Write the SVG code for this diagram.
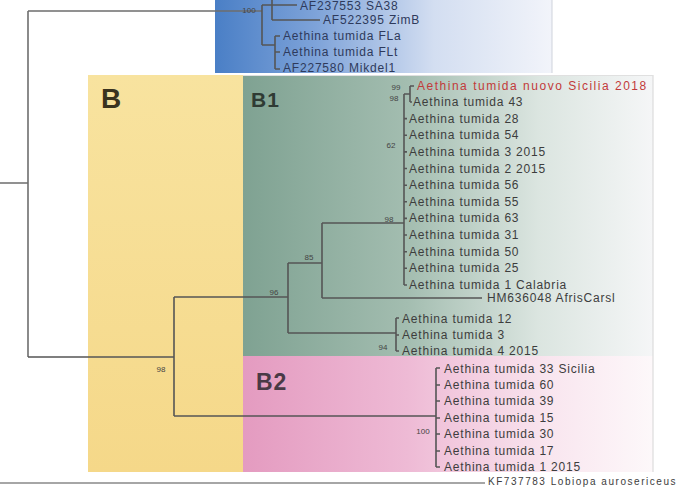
<svg xmlns="http://www.w3.org/2000/svg" width="681" height="488" viewBox="0 0 681 488">
<defs>
<linearGradient id="gBlue" x1="0" y1="0" x2="1" y2="0">
<stop offset="0" stop-color="#4a7fc6"/><stop offset="0.3" stop-color="#7ea3d9"/><stop offset="0.65" stop-color="#d3def1"/><stop offset="1" stop-color="#f2f4fa"/>
</linearGradient>
<linearGradient id="gYel" x1="0" y1="0" x2="0" y2="1">
<stop offset="0" stop-color="#f8e39f"/><stop offset="1" stop-color="#f5d889"/>
</linearGradient>
<linearGradient id="gGreen" x1="0" y1="0" x2="1" y2="0">
<stop offset="0" stop-color="#7fa292"/><stop offset="0.4" stop-color="#a3bdb0"/><stop offset="0.72" stop-color="#dbe5e0"/><stop offset="1" stop-color="#f5f6f7"/>
</linearGradient>
<linearGradient id="gPink" x1="0" y1="0" x2="1" y2="0">
<stop offset="0" stop-color="#e49bc0"/><stop offset="0.4" stop-color="#eebad5"/><stop offset="0.75" stop-color="#f9e6ef"/><stop offset="1" stop-color="#fdf8fa"/>
</linearGradient>
<style>
.ln{stroke:#555;stroke-width:1.6;fill:none}
.lf{font-family:"Liberation Sans",Arial,sans-serif;font-size:12px;letter-spacing:0.8px;fill:#3d3d3d}
.bl{font-family:"Liberation Sans",Arial,sans-serif;font-size:12px;letter-spacing:0.8px;fill:#2e3a5c}
.bs{font-family:"Liberation Sans",Arial,sans-serif;font-size:8px;fill:#444;text-anchor:middle}
.cl{font-family:"Liberation Sans",Arial,sans-serif;font-weight:bold}
</style>
</defs>
<rect width="681" height="488" fill="#ffffff"/>
<g id="panels">
<rect x="215" y="0" width="337" height="73" fill="url(#gBlue)"/>
<line x1="552" y1="0" x2="552" y2="73" stroke="#cfd3dc" stroke-width="1"/>
<rect x="88" y="75" width="155" height="397" fill="url(#gYel)"/>
<rect x="243" y="75" width="410" height="281" fill="url(#gGreen)"/>
<rect x="243" y="356" width="410" height="116" fill="url(#gPink)"/>
<line x1="653" y1="75" x2="653" y2="472" stroke="#d6d6d6" stroke-width="1"/>
<line x1="243" y1="75.5" x2="653" y2="75.5" stroke="#e0e0e0" stroke-width="1"/>
</g>
<g id="clade-labels">
<text class="cl" x="101" y="108" font-size="28" fill="#3a331f">B</text>
<text class="cl" x="251" y="107" font-size="21" fill="#2f3b34" letter-spacing="1">B1</text>
<text class="cl" x="256" y="390" font-size="23" fill="#4a3a46" letter-spacing="1">B2</text>
</g>
<g id="connectors">
<path class="ln" d="M0 183H28M28 11V357M28 11H262" style="stroke:#6e6e6e"/>
<path class="ln" d="M262 5V45M262 5H272M272 -2V20M272 5H297M272 20H320M262 45H275M275 36V69M275 36H280M275 52H280M275 69H280"/>
<path class="ln" d="M28 357H174M174 297V416M174 297H288M174 416H436"/>
<path class="ln" d="M288 263V333M288 263H322M288 333H396M322 223V298M322 298H482M322 223H404"/>
<path class="ln" d="M404 94V285M404 94H410M410 86V102M410 86H414M410 102H412"/>
<path class="ln" d="M404 118.6H407M404 135.3H407M404 151.9H407M404 168.5H407M404 185.2H407M404 201.8H407M404 218.4H407M404 235H407M404 251.7H407M404 268.3H407M404 285H407"/>
<path class="ln" d="M396 318V351M396 318H399M396 335H399M396 351H399"/>
<path class="ln" d="M436 368V467M436 368H440M436 385H440M436 401H440M436 418H440M436 434H440M436 451H440M436 467H440"/>
<path d="M0 483H485" stroke="#888" stroke-width="1.6"/>
</g>
<g id="support">
<text class="bs" x="249" y="13">100</text>
<text class="bs" x="396" y="90">99</text>
<text class="bs" x="394" y="101">98</text>
<text class="bs" x="391" y="148">62</text>
<text class="bs" x="389" y="222">98</text>
<text class="bs" x="309" y="260">85</text>
<text class="bs" x="274" y="295">96</text>
<text class="bs" x="383" y="350">94</text>
<text class="bs" x="161" y="372">98</text>
<text class="bs" x="423" y="434">100</text>
</g>
<g id="leaf-blue">
<text class="bl" x="300" y="10">AF237553 SA38</text>
<text class="bl" x="323" y="24">AF522395 ZimB</text>
<text class="bl" x="283" y="40">Aethina tumida FLa</text>
<text class="bl" x="283" y="56">Aethina tumida FLt</text>
<text class="bl" x="283" y="72">AF227580 Mikdel1</text>
</g>
<g id="leaf-b1">
<text class="lf" x="417" y="90" style="fill:#c23a3a" textLength="230" lengthAdjust="spacing">Aethina tumida nuovo Sicilia 2018</text>
<text class="lf" x="413" y="106">Aethina tumida 43</text>
<text class="lf" x="409" y="122.6">Aethina tumida 28</text>
<text class="lf" x="409" y="139.3">Aethina tumida 54</text>
<text class="lf" x="409" y="155.9">Aethina tumida 3 2015</text>
<text class="lf" x="409" y="172.5">Aethina tumida 2 2015</text>
<text class="lf" x="409" y="189.2">Aethina tumida 56</text>
<text class="lf" x="409" y="205.8">Aethina tumida 55</text>
<text class="lf" x="409" y="222.4">Aethina tumida 63</text>
<text class="lf" x="409" y="239">Aethina tumida 31</text>
<text class="lf" x="409" y="255.7">Aethina tumida 50</text>
<text class="lf" x="409" y="272.3">Aethina tumida 25</text>
<text class="lf" x="409" y="289">Aethina tumida 1 Calabria</text>
<text class="lf" x="487" y="302">HM636048 AfrisCarsl</text>
<text class="lf" x="402" y="323">Aethina tumida 12</text>
<text class="lf" x="402" y="339">Aethina tumida 3</text>
<text class="lf" x="402" y="355">Aethina tumida 4 2015</text>
</g>
<g id="leaf-b2">
<text class="lf" x="444" y="373">Aethina tumida 33 Sicilia</text>
<text class="lf" x="444" y="389">Aethina tumida 60</text>
<text class="lf" x="444" y="405">Aethina tumida 39</text>
<text class="lf" x="444" y="422">Aethina tumida 15</text>
<text class="lf" x="444" y="438">Aethina tumida 30</text>
<text class="lf" x="444" y="455">Aethina tumida 17</text>
<text class="lf" x="444" y="471">Aethina tumida 1 2015</text>
</g>
<g id="leaf-outgroup">
<text class="lf" x="488" y="485" style="font-size:10px;letter-spacing:0.5px" textLength="188" lengthAdjust="spacing">KF737783 Lobiopa aurosericeus</text>
</g>
</svg>
